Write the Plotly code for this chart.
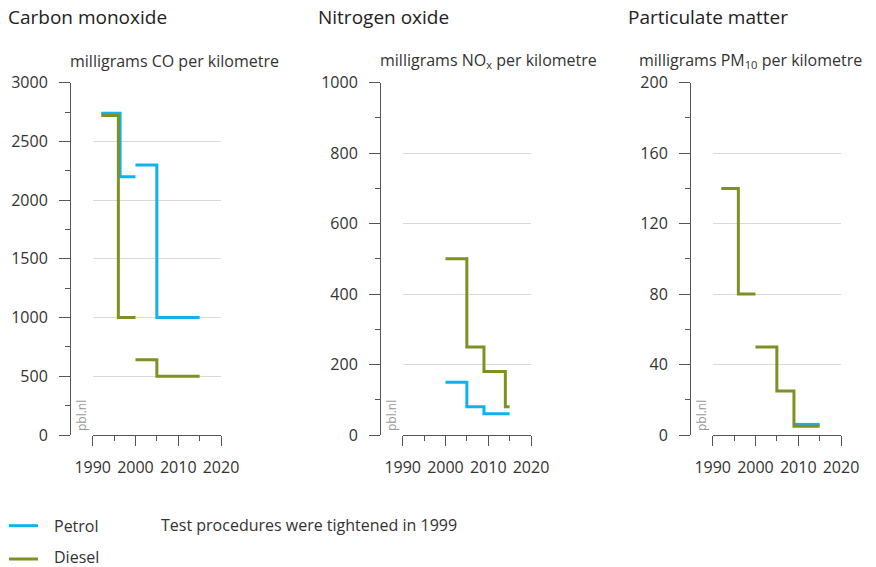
import plotly.graph_objects as go

# ---------------- data ----------------
# Carbon monoxide (mg CO per km)
co_petrol_years = [1992, 1996.4, 2000, None, 2000, 2005, 2015]
co_petrol_vals = [2740, 2200, 2200, None, 2300, 1000, 1000]
co_diesel_years = [1992, 1996, 2000, None, 2000, 2005, 2015]
co_diesel_vals = [2720, 1000, 1000, None, 640, 500, 500]

# Nitrogen oxide (mg NOx per km)
nox_petrol_years = [2000, 2005, 2009, 2015]
nox_petrol_vals = [150, 80, 60, 60]
nox_diesel_years = [2000, 2005, 2009, 2014, 2015]
nox_diesel_vals = [500, 250, 180, 80, 80]

# Particulate matter (mg PM10 per km)
pm_petrol_years = [2009, 2015]
pm_petrol_vals = [6, 6]
pm_diesel_years = [1992, 1996, 2000, None, 2000, 2005, 2009, 2015]
pm_diesel_vals = [140, 80, 80, None, 50, 25, 5, 5]

panel_titles = ["Carbon monoxide", "Nitrogen oxide", "Particulate matter"]
unit_labels = ["milligrams CO per kilometre",
               "milligrams NO<sub>x</sub> per kilometre",
               "milligrams PM<sub>10</sub> per kilometre"]
x_ticks = [1990, 2000, 2010, 2020]
x_minor_ticks = [1995, 2005, 2015]
y_ticks = [[0, 500, 1000, 1500, 2000, 2500, 3000],
           [0, 200, 400, 600, 800, 1000],
           [0, 40, 80, 120, 160, 200]]
y_minor_step = [250, 100, 20]
series_names = ["Petrol", "Diesel"]
note_text = "Test procedures were tightened in 1999"
source_text = "pbl.nl"

# ---------------- style ----------------
W, H = 876, 567
FONT = "Open Sans"
TXT = "#333333"
AX = "#555555"
GRID = "#dadada"
PETROL = "#0fb2ee"
DIESEL = "#7d9124"
series_colors = [PETROL, DIESEL]

panels = [
    (co_petrol_years, co_petrol_vals, co_diesel_years, co_diesel_vals),
    (nox_petrol_years, nox_petrol_vals, nox_diesel_years, nox_diesel_vals),
    (pm_petrol_years, pm_petrol_vals, pm_diesel_years, pm_diesel_vals),
]

fig = go.Figure()
for i, (px_, py_, dx_, dy_) in enumerate(panels):
    xa = "x" if i == 0 else f"x{i+1}"
    ya = "y" if i == 0 else f"y{i+1}"
    fig.add_trace(go.Scatter(x=px_, y=py_, mode="lines", line=dict(color=PETROL, width=3, shape="hv"),
                             name=series_names[0], legendgroup="petrol", showlegend=False,
                             xaxis=xa, yaxis=ya, connectgaps=False, hoverinfo="x+y"))
for i, (px_, py_, dx_, dy_) in enumerate(panels):
    xa = "x" if i == 0 else f"x{i+1}"
    ya = "y" if i == 0 else f"y{i+1}"
    fig.add_trace(go.Scatter(x=dx_, y=dy_, mode="lines", line=dict(color=DIESEL, width=3, shape="hv"),
                             name=series_names[1], legendgroup="diesel", showlegend=False,
                             xaxis=xa, yaxis=ya, connectgaps=False, hoverinfo="x+y"))

# geometry (pixels)
panel_offset = [0, 310, 620]
x_left, x_right = 92.7, 221.0
y_axis_px = 70.0
y_top, y_bot = 82.7, 435.0

layout = {}
annotations = []
shapes = []
for i in range(3):
    off = panel_offset[i]
    xk = "xaxis" if i == 0 else f"xaxis{i+1}"
    yk = "yaxis" if i == 0 else f"yaxis{i+1}"
    ya = "y" if i == 0 else f"y{i+1}"
    layout[xk] = dict(
        domain=[(x_left + off) / W, (x_right + off) / W],
        range=[1990, 2020], anchor=ya,
        tickvals=x_ticks, ticks="outside", ticklen=10, tickwidth=1, tickcolor=AX,
        showline=True, linecolor=AX, linewidth=1,
        showgrid=False, zeroline=False,
        minor=dict(tickvals=x_minor_ticks, ticks="outside", ticklen=5, tickwidth=1, tickcolor=AX, showgrid=False),
        tickfont=dict(family=FONT, size=16, color=TXT),
        ticklabelstandoff=8, fixedrange=True, automargin=False,
    )
    layout[yk] = dict(
        domain=[1 - y_bot / H, 1 - y_top / H],
        range=[0, y_ticks[i][-1]], anchor="free", position=(y_axis_px + off) / W,
        tickvals=y_ticks[i], ticks="outside", ticklen=11, tickwidth=1, tickcolor=AX,
        showline=True, linecolor=AX, linewidth=1,
        showgrid=True, gridcolor=GRID, gridwidth=1, zeroline=False,
        minor=dict(dtick=y_minor_step[i], tick0=0, ticks="outside", ticklen=5, tickwidth=1, tickcolor=AX, showgrid=False),
        tickfont=dict(family=FONT, size=16, color=TXT),
        ticklabelstandoff=8, fixedrange=True, automargin=False,
    )
    annotations.append(dict(text=panel_titles[i], x=(6 + off) / W, y=1 - 17 / H, xref="paper", yref="paper",
                            xanchor="left", yanchor="middle", showarrow=False,
                            font=dict(family=FONT, size=19, color="#222222")))
    annotations.append(dict(text=source_text, x=(81 + off) / W, y=1 - 416 / H, xref="paper", yref="paper",
                            xanchor="center", yanchor="middle", textangle=-90, showarrow=False,
                            font=dict(family=FONT, size=12, color="#999999")))

unit_x = [68, 378, 637]
for i in range(3):
    annotations.append(dict(text=unit_labels[i], x=unit_x[i] / W, y=1 - 61 / H, xref="paper", yref="paper",
                            xanchor="left", yanchor="middle", showarrow=False,
                            font=dict(family=FONT, size=16, color=TXT)))

annotations.append(dict(text=note_text, x=159 / W, y=1 - 525 / H, xref="paper", yref="paper",
                        xanchor="left", yanchor="middle", showarrow=False,
                        font=dict(family=FONT, size=16, color=TXT)))

# legend (keys + labels)
legend_rows_px = [525.7, 559.0]
legend_text_px = [525.7, 556.5]
for name, color, ypx, tpx in zip(series_names, series_colors, legend_rows_px, legend_text_px):
    shapes.append(dict(type="line", xref="paper", yref="paper",
                       x0=9 / W, x1=38 / W, y0=1 - ypx / H, y1=1 - ypx / H,
                       line=dict(color=color, width=3)))
    annotations.append(dict(text=name, x=53 / W, y=1 - tpx / H, xref="paper", yref="paper",
                            xanchor="left", yanchor="middle", showarrow=False, borderpad=0,
                            font=dict(family=FONT, size=16, color=TXT)))

fig.update_layout(
    width=W, height=H,
    margin=dict(l=0, r=0, t=0, b=0, autoexpand=False),
    paper_bgcolor="white", plot_bgcolor="white",
    annotations=annotations,
    shapes=shapes,
    showlegend=False,
    **layout,
)

fig.write_html("out.html", config={"displayModeBar": False},
               post_script="document.body.style.margin='0';document.body.style.padding='0';")
